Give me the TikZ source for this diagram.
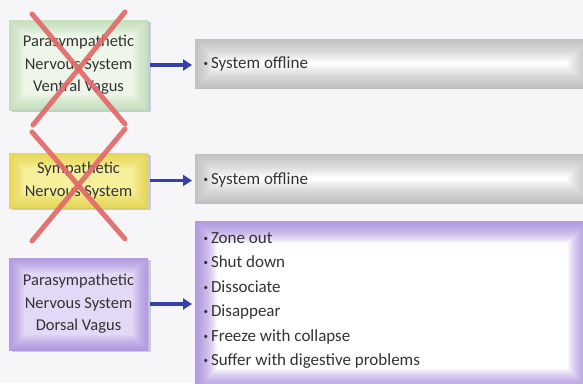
\documentclass[tikz,border=0pt]{standalone}
\usepackage{fontspec}
\setmainfont{Carlito}
\usetikzlibrary{arrows.meta,shadows}
\definecolor{bg}{HTML}{F6F6F8}
\definecolor{txt}{HTML}{333333}
\definecolor{arrowblue}{HTML}{3540A8}
\definecolor{xred}{HTML}{E26A6A}
\definecolor{greenfill}{HTML}{EDF6E9}
\definecolor{greenglow}{HTML}{B8DBAE}
\definecolor{yellowfill}{HTML}{F7F09A}
\definecolor{yellowglow}{HTML}{E2D040}
\definecolor{purplefill}{HTML}{E3D8F5}
\definecolor{purpleglow}{HTML}{A284DC}
\definecolor{greyglow}{HTML}{A6A6A6}
\definecolor{shadowcol}{HTML}{9A98B8}
\tikzset{
  glow/.style n args={3}{path picture={
    \foreach \w in {2,4,...,#2}{
      \draw[#1, opacity=#3, line width=\w pt]
        (path picture bounding box.south west) rectangle (path picture bounding box.north east);}
  }},
  leftbox/.style={rectangle, inner sep=0pt, minimum width=139pt, align=center,
    text=txt, font=\fontsize{16.5}{22.5}\selectfont,
    drop shadow={shadow xshift=2.5pt, shadow yshift=-2pt, opacity=0.45, fill=shadowcol}},
  rightbox/.style={rectangle, inner sep=0pt, fill=white, anchor=north west},
  rtext/.style={anchor=west, text=txt, font=\fontsize{17}{24.4}\selectfont, align=left},
  conn/.style={draw=arrowblue, line width=3.6pt, -{Triangle[length=9pt,width=11pt]}},
  cross/.style={draw=xred, line width=5pt, line cap=round, opacity=0.92},
}
\newcommand{\bul}{{\fontsize{9}{9}\selectfont\raisebox{2pt}{\textbullet}}\hspace{3pt}}
\begin{document}
\begin{tikzpicture}[x=1pt,y=-1pt]
\fill[bg] (0,0) rectangle (583,383);
\useasboundingbox (0,0) rectangle (583,383);
\begin{scope}
\clip (0,0) rectangle (583,383);
% right boxes
\node[rightbox, minimum width=395pt, minimum height=49pt, glow={greyglow}{46}{0.04}] (right1) at (195,39) {};
\node[rightbox, minimum width=395pt, minimum height=49pt, glow={greyglow}{46}{0.04}] (right2) at (195,154) {};
\node[rightbox, minimum width=395pt, minimum height=170pt, glow={purpleglow}{44}{0.065}] (right3) at (195,221) {};
\node[rtext] at (200,64) {\bul System offline};
\node[rtext] at (200,180) {\bul System offline};
\node[rtext, anchor=north west] at (200,229) {\bul Zone out\\ \bul Shut down\\ \bul Dissociate\\ \bul Disappear\\ \bul Freeze with collapse\\ \bul Suffer with digestive problems};
% left boxes
\node[leftbox, minimum height=90pt, fill=greenfill, glow={greenglow}{30}{0.07}] (left1) at (78.5,65) {Parasympathetic\\Nervous System\\Ventral Vagus};
\node[leftbox, minimum height=55pt, fill=yellowfill, glow={yellowglow}{30}{0.07}] (left2) at (78.5,180.5) {Sympathetic\\Nervous System};
\node[leftbox, minimum height=92pt, fill=purplefill, glow={purpleglow}{30}{0.07}] (left3) at (78.5,304) {Parasympathetic\\Nervous System\\Dorsal Vagus};
% connectors
\draw[conn] ([xshift=2pt]left1.east) -- ([xshift=-3pt]left1.east -| right1.west);
\draw[conn] ([xshift=2pt]left2.east) -- ([xshift=-3pt]left2.east -| right2.west);
\draw[conn] ([xshift=2pt]left3.east) -- ([xshift=-3pt]left3.east -| right3.west);
% red crosses
\draw[cross] (32,14) -- (125,124);
\draw[cross] (125,12) -- (33,125);
\draw[cross] (32,132) -- (125,239);
\draw[cross] (125,129) -- (32,241);
\end{scope}
\end{tikzpicture}
\end{document}
